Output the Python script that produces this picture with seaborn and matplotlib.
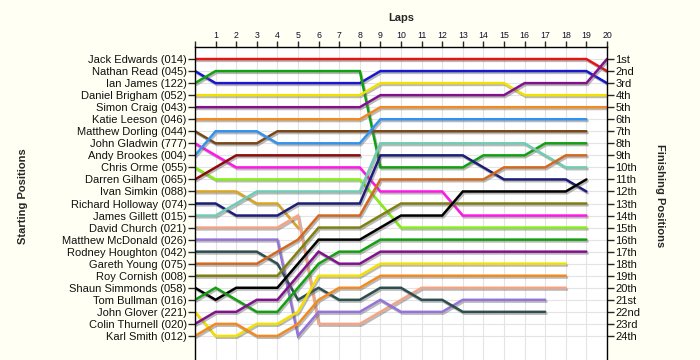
import matplotlib
matplotlib.use("Agg")
import matplotlib.pyplot as plt
import matplotlib.patheffects as pe
import pandas as pd
import seaborn as sns

# starting grid order (position 1 first)
drivers = [
    "Jack Edwards (014)", "Nathan Read (045)", "Ian James (122)", "Daniel Brigham (052)",
    "Simon Craig (043)", "Katie Leeson (046)", "Matthew Dorling (044)", "John Gladwin (777)",
    "Andy Brookes (004)", "Chris Orme (055)", "Darren Gilham (065)", "Ivan Simkin (088)",
    "Richard Holloway (074)", "James Gillett (015)", "David Church (021)", "Matthew McDonald (026)",
    "Rodney Houghton (042)", "Gareth Young (075)", "Roy Cornish (008)", "Shaun Simmonds (058)",
    "Tom Bullman (016)", "John Glover (221)", "Colin Thurnell (020)", "Karl Smith (012)",
]
colours = [
    "#E41414", "#1818CC", "#12A012", "#F2E000", "#82128C", "#F28A22", "#7A4818", "#FF18E6",
    "#3392F0", "#84F014", "#8C0C0C", "#DAA520", "#1E1E78", "#70CCB2", "#F5A385", "#9473DB",
    "#2F4F4F", "#D2691E", "#808012", "#000000", "#12A012", "#F2E000", "#82128C", "#F28A22",
]

# position at each lap, lap 0 = grid
positions = [
    [1, 1, 1, 1, 1, 1, 1, 1, 1, 1, 1, 1, 1, 1, 1, 1, 1, 1, 1, 1, 2],
    [2, 3, 3, 3, 3, 3, 3, 3, 3, 2, 2, 2, 2, 2, 2, 2, 2, 2, 2, 2, 3],
    [3, 2, 2, 2, 2, 2, 2, 2, 2, 10, 10, 10, 10, 10, 9, 9, 9, 8, 8, 8],
    [4, 4, 4, 4, 4, 4, 4, 4, 4, 3, 3, 3, 3, 3, 3, 3, 4, 4, 4, 4, 4],
    [5, 5, 5, 5, 5, 5, 5, 5, 5, 4, 4, 4, 4, 4, 4, 4, 3, 3, 3, 3, 1],
    [6, 6, 6, 6, 6, 6, 6, 6, 6, 5, 5, 5, 5, 5, 5, 5, 5, 5, 5, 5, 5],
    [7, 8, 8, 8, 7, 7, 7, 7, 7, 7, 7, 7, 7, 7, 7, 7, 7, 7, 7, 7],
    [8, 9, 10, 10, 10, 10, 10, 10, 10, 12, 12, 12, 12, 14, 14, 14, 14, 14, 14, 14],
    [9, 7, 7, 7, 8, 8, 8, 8, 8, 6, 6, 6, 6, 6, 6, 6, 6, 6, 6, 6],
    [10, 11, 11, 11, 11, 11, 11, 11, 11, 13, 15, 15, 15, 15, 15, 15, 15, 15, 15, 15],
    [11, 10, 9, 9, 9, 9, 9, 9, 9],
    [12, 12, 12, 13, 13, 15],
    [13, 13, 14, 14, 14, 13, 13, 13, 13, 9, 9, 9, 9, 9, 10, 11, 11, 11, 11, 12],
    [14, 14, 13, 12, 12, 12, 12, 12, 12, 8, 8, 8, 8, 8, 8, 8, 8, 9, 10, 10],
    [15, 15, 15, 15, 15, 14, 23, 23, 23, 22, 21, 20, 20, 20, 20, 20, 20, 20, 20],
    [16, 16, 16, 16, 16, 24, 22, 22, 22, 21, 22, 22, 22, 21, 21, 21, 21, 21],
    [17, 17, 17, 17, 18, 21, 20, 21, 21, 20, 20, 21, 21, 22, 22, 22, 22, 22],
    [18, 18, 18, 18, 17, 16, 14, 14, 14, 11, 11, 11, 11, 11, 11, 10, 10, 10, 9, 9],
    [19, 19, 19, 19, 19, 17, 15, 15, 15, 14, 13, 13, 13, 13, 13, 13, 13, 13, 13, 13],
    [20, 21, 20, 20, 20, 18, 16, 16, 16, 15, 14, 14, 14, 12, 12, 12, 12, 12, 12, 11],
    [21, 20, 21, 22, 22, 20, 18, 17, 17, 16, 16, 16, 16, 16, 16, 16, 16, 16, 16, 16],
    [22, 24, 24, 23, 23, 22, 19, 19, 19, 18, 18, 18, 18, 18, 18, 18, 18, 18, 18],
    [23, 22, 22, 21, 21, 19, 17, 18, 18, 17, 17, 17, 17, 17, 17, 17, 17, 17, 17, 17],
    [24, 23, 23, 24, 24, 23, 21, 20, 20, 19, 19, 19, 19, 19, 19, 19, 19, 19, 19],
]
finish_labels = [
    "1st", "2nd", "3rd", "4th", "5th", "6th", "7th", "8th", "9th", "10th", "11th", "12th",
    "13th", "14th", "15th", "16th", "17th", "18th", "19th", "20th", "21st", "22nd", "23rd", "24th",
]
n_laps = 20


def main() -> None:
    sns.set_style("white")
    plt.rcParams["font.family"] = ["Liberation Sans", "DejaVu Sans"]

    rows = []
    for name, pos in zip(drivers, positions):
        for lap, p in enumerate(pos):
            rows.append({"driver": name, "lap": lap, "position": p})
    df = pd.DataFrame(rows)

    fig = plt.figure(figsize=(7, 3.6), dpi=100, facecolor="#FFFFF4")
    ax = fig.add_axes([195 / 700, 0.0, 412 / 700, 313 / 360])
    ax.set_facecolor("white")

    sns.lineplot(
        data=df, x="lap", y="position", hue="driver", hue_order=drivers,
        palette=dict(zip(drivers, colours)), estimator=None, legend=False,
        linewidth=1.8, ax=ax,
    )
    shadow = [pe.SimpleLineShadow(offset=(0.9, -1.3), shadow_color="0.4", alpha=0.45), pe.Normal()]
    for line in ax.lines:
        line.set_path_effects(shadow)
        line.set_solid_joinstyle("miter")

    ax.set_xlim(0, n_laps)
    ax.set_ylim(26, 0)
    ax.xaxis.set_ticks_position("top")
    ax.set_xticks(range(0, n_laps + 1))
    ax.set_xticklabels([""] + [str(i) for i in range(1, n_laps + 1)], fontsize=6.3, color="#101028")
    ax.set_yticks(range(1, len(drivers) + 1))
    ax.set_yticklabels(drivers, fontsize=8, color="#101010")
    ax.tick_params(axis="x", direction="out", length=4, width=1, pad=1, top=True, bottom=False)
    ax.tick_params(axis="y", direction="out", length=5, width=1, pad=1, left=True)
    ax.grid(True, color="#E4E4E4", linewidth=0.8)
    ax.set_axisbelow(True)
    ax.set_xlabel("")
    label_y = 1 - (196 - 47) / 313
    ax.set_ylabel("Starting Positions", fontsize=8, fontweight="bold")
    ax.yaxis.set_label_coords((28 - 195) / 412, label_y)
    for side in ["bottom", "right"]:
        ax.spines[side].set_visible(False)
    for side in ["top", "left"]:
        ax.spines[side].set_color("black")
        ax.spines[side].set_linewidth(1)

    ax2 = ax.twinx()
    ax2.set_ylim(26, 0)
    ax2.set_yticks(range(1, len(finish_labels) + 1))
    ax2.set_yticklabels(finish_labels, fontsize=8, color="#101010")
    ax2.tick_params(axis="y", direction="out", length=5, width=1, pad=1, right=True)
    ax2.grid(False)
    for side in ["bottom", "left", "top"]:
        ax2.spines[side].set_visible(False)
    ax2.spines["right"].set_color("black")
    ax2.spines["right"].set_linewidth(1)
    ax2.set_ylabel("Finishing Positions", fontsize=8, fontweight="bold", rotation=270)
    ax2.yaxis.set_label_coords((665 - 195) / 412, label_y)

    fig.text(401 / 700, 1 - 18 / 360, "Laps", fontsize=8, fontweight="bold", ha="center", va="center")

    fig.savefig("out.png", dpi=100, facecolor=fig.get_facecolor())
    plt.close(fig)


if __name__ == "__main__":
    main()
